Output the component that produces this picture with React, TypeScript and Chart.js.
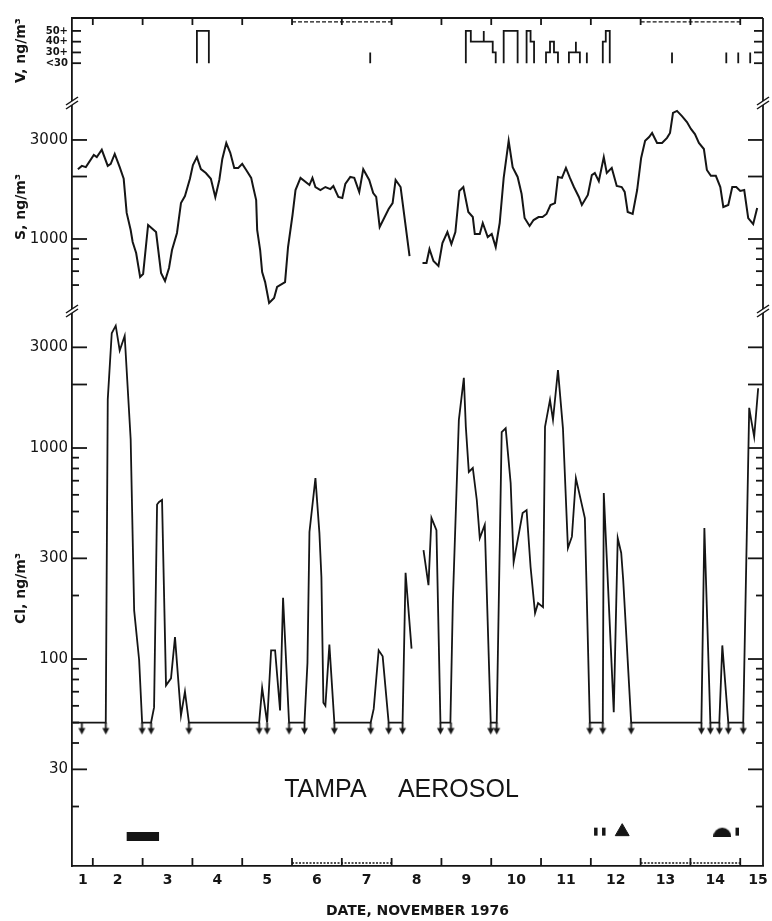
import React, { useEffect, useRef } from 'react';
import { Chart, registerables } from 'chart.js';

Chart.register(...registerables);

const INK = '#151515';
const FONT = '"DejaVu Sans", sans-serif';

// x axis: value n = noon of November n; tick marks at midnights
const DAY_LABELS = ['1', '2', '3', '4', '5', '6', '7', '8', '9', '10', '11', '12', '13', '14', '15'];
const WEEKENDS = [[5.5, 7.5], [12.5, 14.5]];

// Vanadium: levels 0 '<30', 1 '30+', 2 '40+', 3 '50+' (polyline vertices, null = break)
const V_LEVEL_LABELS = ['<30', '30+', '40+', '50+'];
const V_T = [
  3.59, 3.59, 3.83, 3.83, 3.83,
  7.07, 7.07, 7.07,
  8.99, 8.99, 9.09, 9.09, 9.35, 9.35, 9.35, 9.53, 9.53, 9.59, 9.59, 9.59,
  9.75, 9.75, 10.03, 10.03, 10.03,
  10.21, 10.21, 10.29, 10.29, 10.36, 10.36, 10.36,
  10.60, 10.60, 10.68, 10.68, 10.76, 10.76, 10.84, 10.84, 10.84,
  11.06, 11.06, 11.20, 11.20, 11.20, 11.28, 11.28, 11.28,
  11.42, 11.42, 11.42,
  11.74, 11.74, 11.80, 11.80, 11.88, 11.88, 11.88,
  13.13, 13.13, 13.13,
  14.22, 14.22, 14.22,
  14.46, 14.46, 14.46,
  14.70, 14.70,
];
const V_L = [
  0, 3, 3, 0, null,
  0, 1, null,
  0, 3, 3, 2, 2, 3, 2, 2, 1, 1, 0, null,
  0, 3, 3, 0, null,
  0, 3, 3, 2, 2, 0, null,
  0, 1, 1, 2, 2, 1, 1, 0, null,
  0, 1, 1, 2, 1, 1, 0, null,
  0, 1, null,
  0, 2, 2, 3, 3, 0, null,
  0, 1, null,
  0, 1, null,
  0, 1, null,
  0, 1,
];

// Sulfur, ng/m3
const S_T = [
  1.20, 1.28, 1.36, 1.52, 1.58, 1.68, 1.80, 1.86, 1.94, 2.04,
  2.12, 2.18, 2.26, 2.30, 2.37, 2.45, 2.51, 2.61, 2.77, 2.87,
  2.95, 3.03, 3.09, 3.19, 3.27, 3.35, 3.45, 3.51, 3.59, 3.67,
  3.77, 3.87, 3.96, 4.04, 4.10, 4.18, 4.26, 4.34, 4.42, 4.50,
  4.58, 4.68, 4.72, 4.78, 4.80, 4.86, 4.90, 4.96, 5.04, 5.14,
  5.20, 5.36, 5.42, 5.51, 5.57, 5.67, 5.85, 5.91, 5.97, 6.07,
  6.17, 6.27, 6.33, 6.43, 6.51, 6.57, 6.67, 6.75, 6.85, 6.93,
  7.05, 7.13, 7.19, 7.26, 7.44, 7.52, 7.58, 7.68, 7.86, 8.00,
  8.12, 8.20, 8.26, 8.34, 8.44, 8.52, 8.62, 8.70, 8.78, 8.86,
  8.94, 9.04, 9.13, 9.17, 9.27, 9.33, 9.43, 9.51, 9.59, 9.67,
  9.75, 9.85, 9.93, 10.03, 10.11, 10.17, 10.27, 10.35, 10.45, 10.53,
  10.61, 10.69, 10.78, 10.84, 10.92, 11.00, 11.08, 11.16, 11.26, 11.32,
  11.44, 11.52, 11.58, 11.66, 11.76, 11.82, 11.92, 12.02, 12.12, 12.18,
  12.24, 12.34, 12.43, 12.51, 12.59, 12.67, 12.73, 12.83, 12.93, 13.03,
  13.09, 13.15, 13.23, 13.33, 13.43, 13.51, 13.59, 13.67, 13.77, 13.83,
  13.91, 14.01, 14.10, 14.16, 14.26, 14.34, 14.42, 14.50, 14.58, 14.66,
  14.76, 14.84,
];
const S_V = [
  2170, 2250, 2220, 2540, 2480, 2690, 2250, 2300, 2570, 2220,
  1950, 1335, 1105, 967, 856, 656, 678, 1168, 1080, 686,
  628, 725, 885, 1069, 1490, 1610, 1950, 2270, 2480, 2170,
  2080, 1950, 1590, 1925, 2430, 2900, 2600, 2200, 2200, 2300,
  2150, 1970, 1780, 1540, 1105, 885, 693, 620, 492, 520,
  588, 620, 915, 1305, 1720, 1970, 1820, 1970, 1780, 1720,
  1780, 1740, 1800, 1594, 1576, 1840, 1990, 1970, 1685, 2170,
  1925, 1665, 1594, 1142, 1395, 1490, 1925, 1780, 828, null,
  766, 766, 895, 783, 741, 957, 1080, 946, 1080, 1703,
  1780, 1350, 1276, 1057, 1057, 1194, 1022, 1057, 915, 1194,
  1970, 2970, 2220, 1990, 1647, 1262, 1155, 1234, 1276, 1276,
  1320, 1458, 1490, 1990, 1970, 2200, 1970, 1780, 1594, 1458,
  1630, 2030, 2080, 1900, 2480, 2080, 2200, 1800, 1780, 1685,
  1350, 1320, 1722, 2456, 2970, 3100, 3240, 2900, 2900, 3070,
  3240, 4050, 4140, 3910, 3660, 3390, 3200, 2900, 2714, 2150,
  2015, 2015, 1780, 1426, 1458, 1780, 1780, 1703, 1722, 1262,
  1180, 1410,
];
const S_TICKS = [600, 700, 800, 900, 1000, 2000, 3000];
const S_TICK_LABELS = ['', '', '', '', '1000', '', '3000'];
const S_LONG_TICKS = [1000, 2000, 3000];

// Chlorine, ng/m3 (50 = detection limit)
const CL_T = [
  1.10, 1.28, 1.76, 1.80, 1.88, 1.96, 2.04, 2.14, 2.26, 2.33,
  2.43, 2.49, 2.67, 2.73, 2.79, 2.83, 2.89, 2.97, 3.07,
  3.15, 3.27, 3.35, 3.43, 4.84, 4.90, 5.00, 5.08, 5.16, 5.26,
  5.32, 5.44, 5.75, 5.81, 5.85, 5.97, 6.05, 6.09, 6.13, 6.17,
  6.25, 6.35, 7.08, 7.14, 7.24, 7.32, 7.44, 7.72, 7.78, 7.90,
  8.00, 8.14, 8.24, 8.30, 8.40, 8.48, 8.68, 8.73, 8.85, 8.95,
  8.99, 9.05, 9.13, 9.21, 9.27, 9.37, 9.49, 9.61, 9.71, 9.79,
  9.89, 9.95, 10.13, 10.21, 10.29, 10.38, 10.44, 10.54, 10.58, 10.68,
  10.74, 10.84, 10.94, 11.04, 11.12, 11.20, 11.38, 11.48, 11.74, 11.76,
  11.82, 11.96, 12.04, 12.11, 12.15, 12.31, 13.72, 13.78, 13.90, 14.08,
  14.14, 14.26, 14.56, 14.68, 14.72, 14.78, 14.86,
];
const CL_V = [
  50, 50, 50, 1700, 3500, 3800, 2900, 3400, 1100, 170,
  99, 50, 50, 59, 540, 555, 567, 75, 81,
  127, 54, 70, 50, 50, 73, 50, 110, 110, 57,
  195, 50, 50, 96, 400, 720, 395, 245, 62, 60,
  117, 50, 50, 58, 110, 103, 50, 50, 256, 112,
  null, 328, 224, 466, 408, 50, 50, 190, 1360, 2150,
  1260, 770, 804, 567, 374, 432, 50, 50, 1190, 1240,
  683, 288, 492, 508, 273, 165, 184, 176, 1260, 1690,
  1360, 2340, 1240, 336, 380, 720, 466, 50, 50, 612,
  300, 56, 374, 318, 237, 50, 50, 418, 50, 50,
  116, 50, 50, 1550, 1360, 1130, 1920,
];
const CL_DETECTION_LIMIT = 50;
const CL_BELOW_LIMIT_T = [
  1.28, 1.76, 2.49, 2.67, 3.43, 4.84, 5.00, 5.44, 5.75, 6.35,
  7.08, 7.44, 7.72, 8.48, 8.69, 9.49, 9.61, 11.48, 11.74, 12.31,
  13.72, 13.90, 14.08, 14.26, 14.56,
];
const CL_TICKS = [20, 30, 40, 50, 60, 70, 80, 90, 100, 200, 300, 400, 500, 600, 700, 800, 900, 1000, 2000, 3000];
const CL_TICK_LABELS = ['', '30', '', '', '', '', '', '', '100', '', '300', '', '', '', '', '', '', '1000', '', '3000'];
const CL_LONG_TICKS = [30, 100, 300, 1000, 2000, 3000];

// weather symbols along the bottom
const RAIN_BAR_T = [2.18, 2.83];
const BAR_LEVEL = 14.4;
const SMALL_BARS_T = [11.60, 11.76, 14.44];
const TRIANGLE_T = [12.13];
const HALF_DISK_T = [14.14];
const SYMBOL_LEVEL = 15.2;

const ANNOTATION = [
  { text: 'TAMPA', x: 6.17, y: 24 },
  { text: 'AEROSOL', x: 8.84, y: 24 },
];

const xy = (t: number[], v: (number | null)[]) => t.map((x, i) => ({ x, y: v[i] }));

function makeArrow() {
  const c = document.createElement('canvas');
  c.width = 9;
  c.height = 26;
  const g = c.getContext('2d')!;
  g.strokeStyle = INK;
  g.fillStyle = INK;
  g.lineWidth = 1.8;
  g.beginPath();
  g.moveTo(4.5, 13);
  g.lineTo(4.5, 20);
  g.stroke();
  g.beginPath();
  g.moveTo(1, 18.5);
  g.lineTo(8, 18.5);
  g.lineTo(4.5, 25);
  g.closePath();
  g.fill();
  return c;
}

function makeHalfDisk() {
  const c = document.createElement('canvas');
  c.width = 18;
  c.height = 10;
  const g = c.getContext('2d')!;
  g.fillStyle = INK;
  g.beginPath();
  g.arc(9, 10, 9, Math.PI, 2 * Math.PI);
  g.closePath();
  g.fill();
  return c;
}

const framePlugin = {
  id: 'frame',
  afterDraw(chart: any) {
    const { ctx, chartArea: a, scales } = chart;
    const seg = (x1: number, y1: number, x2: number, y2: number) => {
      ctx.beginPath();
      ctx.moveTo(x1, y1);
      ctx.lineTo(x2, y2);
      ctx.stroke();
    };
    ctx.save();
    ctx.strokeStyle = INK;
    ctx.lineWidth = 1.8;
    seg(a.left, a.top, a.right, a.top);
    seg(a.right, a.top, a.right, a.bottom);

    const tickLen = (id: string, v: number) => {
      if (id === 'yV') return 9;
      const long = id === 'yS' ? S_LONG_TICKS : CL_LONG_TICKS;
      return long.includes(v) ? 15 : 7;
    };
    ['yV', 'yS', 'yCl'].forEach((id) => {
      const s = scales[id];
      s.ticks.forEach((t: any) => {
        const y = s.getPixelForValue(t.value);
        const L = tickLen(id, t.value);
        seg(a.left, y, a.left + L, y);
        seg(a.right, y, a.right - L, y);
      });
    });
    for (let i = 1; i < DAY_LABELS.length; i++) {
      const x = scales.x.getPixelForValue(i + 0.5);
      seg(x, a.bottom, x, a.bottom - 8);
      seg(x, a.top, x, a.top + 7);
    }

    [scales.yV.bottom, scales.yS.bottom].forEach((y: number) => {
      [a.left, a.right].forEach((x: number) => {
        ctx.fillStyle = '#fff';
        ctx.fillRect(x - 2, y - 2, 4, 4);
        ctx.lineWidth = 1.5;
        seg(x - 6, y + 2, x + 6, y - 6);
        seg(x - 6, y + 6, x + 6, y - 2);
      });
    });

    ctx.fillStyle = INK;
    ctx.font = '25px "Liberation Sans", sans-serif';
    ctx.textAlign = 'center';
    ctx.textBaseline = 'middle';
    ANNOTATION.forEach((n) => {
      ctx.fillText(n.text, scales.x.getPixelForValue(n.x), scales.yCl.getPixelForValue(n.y));
    });
    ctx.restore();
  },
};

const yCommon = (title: string, align: string, weight: number, stackWeight: number) => ({
  position: 'left',
  stack: 'panels',
  stackWeight,
  weight,
  bounds: 'data',
  grid: { display: false, drawTicks: false },
  border: { display: true, color: INK, width: 1.8 },
  title: {
    display: true,
    text: title,
    align,
    color: INK,
    font: { family: FONT, size: 14, weight: 'bold' },
    padding: { top: 13, bottom: 0 },
  },
  afterFit: (s: any) => {
    s.width = 72;
    s.paddingTop = 0;
    s.paddingBottom = 0;
  },
});

export default function App() {
  const ref = useRef<HTMLCanvasElement>(null);

  useEffect(() => {
    const canvas = ref.current!;
    const arrow = makeArrow();
    const halfDisk = makeHalfDisk();
    const line = { pointRadius: 0, borderColor: INK, tension: 0, spanGaps: false, fill: false };

    const weekendTop = WEEKENDS.flatMap(([a, b]) => [{ x: a, y: 3.84 }, { x: b, y: 3.84 }, { x: b, y: null }]);
    const weekendBottom = WEEKENDS.flatMap(([a, b]) => [{ x: a, y: 10.8 }, { x: b, y: 10.8 }, { x: b, y: null }]);

    const chart = new Chart(canvas, {
      type: 'line',
      data: {
        datasets: [
          { ...line, data: xy(V_T, V_L), yAxisID: 'yV', borderWidth: 1.8 },
          { ...line, data: xy(S_T, S_V), yAxisID: 'yS', borderWidth: 2 },
          { ...line, data: xy(CL_T, CL_V), yAxisID: 'yCl', borderWidth: 1.8 },
          {
            data: CL_BELOW_LIMIT_T.map((x) => ({ x, y: CL_DETECTION_LIMIT })),
            yAxisID: 'yCl',
            showLine: false,
            pointStyle: arrow,
            pointRadius: 5,
          },
          { ...line, data: weekendTop, yAxisID: 'yV', borderWidth: 1.3, borderDash: [4, 2] },
          { ...line, data: weekendBottom, yAxisID: 'yCl', borderWidth: 1.3, borderDash: [2, 1.5] },
          {
            ...line,
            data: RAIN_BAR_T.map((x) => ({ x, y: BAR_LEVEL })),
            yAxisID: 'yCl',
            borderWidth: 9,
            borderCapStyle: 'butt',
          },
          {
            data: SMALL_BARS_T.map((x) => ({ x, y: SYMBOL_LEVEL })),
            yAxisID: 'yCl',
            showLine: false,
            pointStyle: 'line',
            pointRotation: 90,
            pointRadius: 4,
            pointBorderWidth: 3.5,
            pointBorderColor: INK,
          },
          {
            data: TRIANGLE_T.map((x) => ({ x, y: SYMBOL_LEVEL })),
            yAxisID: 'yCl',
            showLine: false,
            pointStyle: 'triangle',
            pointRadius: 8,
            pointBorderWidth: 1,
            pointBorderColor: INK,
            pointBackgroundColor: INK,
          },
          {
            data: HALF_DISK_T.map((x) => ({ x, y: SYMBOL_LEVEL })),
            yAxisID: 'yCl',
            showLine: false,
            pointStyle: halfDisk,
            pointRadius: 5,
          },
        ] as any,
      },
      options: {
        responsive: false,
        animation: false,
        devicePixelRatio: 1,
        events: [],
        layout: { padding: { top: 18, right: 2, bottom: 0, left: 0 } },
        plugins: { legend: { display: false }, tooltip: { enabled: false } },
        scales: {
          x: {
            type: 'linear',
            min: 1.082,
            max: 14.957,
            bounds: 'data',
            grid: { display: false, drawTicks: false },
            border: { display: true, color: INK, width: 1.8 },
            ticks: {
              autoSkip: false,
              maxRotation: 0,
              padding: 6,
              color: INK,
              font: { family: FONT, size: 14, weight: 'bold' },
              callback: (_v: any, i: number) => DAY_LABELS[i],
            },
            afterBuildTicks: (s: any) => {
              s.ticks = DAY_LABELS.map((_, i) => ({
                value: Math.min(Math.max(i + 1, s.min + 0.22), s.max - 0.1),
              }));
            },
            afterFit: (s: any) => {
              s.height = 55;
              s.paddingLeft = 0;
              s.paddingRight = 0;
            },
            title: {
              display: true,
              text: 'DATE, NOVEMBER 1976',
              color: INK,
              font: { family: FONT, size: 14, weight: 'bold' },
              padding: { top: 0, bottom: 1 },
            },
          },
          yCl: {
            ...yCommon('Cl, ng/m³', 'center', 1, 555),
            type: 'logarithmic',
            min: 10.45,
            max: 4460,
            ticks: {
              autoSkip: false,
              padding: 4,
              color: INK,
              font: { family: FONT, size: 15 },
              callback: (_v: any, i: number) => CL_TICK_LABELS[i],
            },
            afterBuildTicks: (s: any) => {
              s.ticks = CL_TICKS.map((value) => ({ value }));
            },
          },
          yS: {
            ...yCommon('S, ng/m³', 'center', 2, 208),
            type: 'logarithmic',
            min: 450,
            max: 4520,
            ticks: {
              autoSkip: false,
              padding: 4,
              color: INK,
              font: { family: FONT, size: 15 },
              callback: (_v: any, i: number) => S_TICK_LABELS[i],
            },
            afterBuildTicks: (s: any) => {
              s.ticks = S_TICKS.map((value) => ({ value }));
            },
          },
          yV: {
            ...yCommon('V, ng/m³', 'end', 3, 85),
            type: 'linear',
            min: -3.7,
            max: 4.2,
            ticks: {
              autoSkip: false,
              padding: 4,
              color: INK,
              font: { family: FONT, size: 10, weight: 'bold' },
              callback: (_v: any, i: number) => V_LEVEL_LABELS[i],
            },
            afterBuildTicks: (s: any) => {
              s.ticks = V_LEVEL_LABELS.map((_, i) => ({ value: i }));
            },
          },
        } as any,
      },
      plugins: [framePlugin],
    } as any);

    return () => chart.destroy();
  }, []);

  return (
    <canvas
      ref={ref}
      width={772}
      height={921}
      style={{ position: 'absolute', left: 0, top: 0, width: 772, height: 921, display: 'block' }}
    />
  );
}
